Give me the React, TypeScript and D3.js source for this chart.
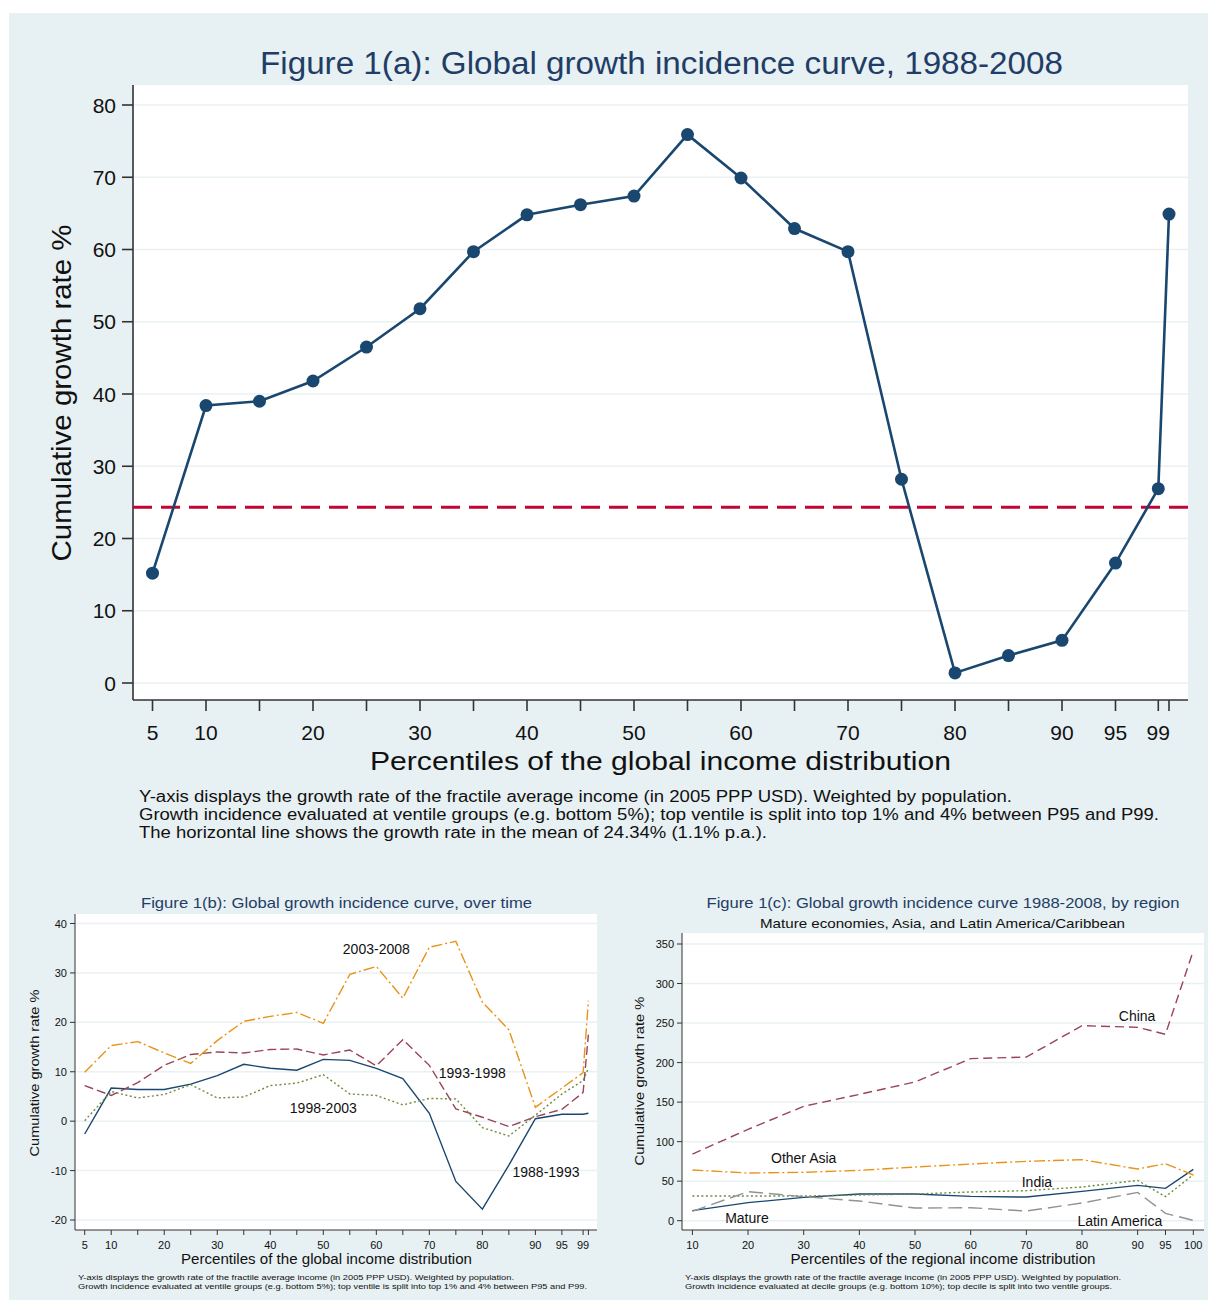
import * as d3 from "d3";
import * as React from "react";

// Figure 1(a)
const topPct = [5, 10, 15, 20, 25, 30, 35, 40, 45, 50, 55, 60, 65, 70, 75, 80, 85, 90, 95, 99, 100];
const topGrowth = [15.2, 38.4, 39.0, 41.8, 46.5, 51.8, 59.7, 64.8, 66.2, 67.4, 75.9, 69.9, 62.9, 59.7, 28.2, 1.4, 3.8, 5.9, 16.6, 26.9, 64.9];
const meanGrowth = 24.34;
const topYTicks = [0, 10, 20, 30, 40, 50, 60, 70, 80];
const topXTickMarks = [5, 10, 15, 20, 25, 30, 35, 40, 45, 50, 55, 60, 65, 70, 75, 80, 85, 90, 95, 99, 100];
const topXTickLabels = [5, 10, 20, 30, 40, 50, 60, 70, 80, 90, 95, 99];

// Figure 1(b)
const periods = ["1988-1993", "1993-1998", "1998-2003", "2003-2008"];
const g8893 = [-2.6, 6.7, 6.4, 6.4, 7.5, 9.2, 11.5, 10.7, 10.3, 12.5, 12.3, 10.7, 8.6, 1.6, -12.2, -17.8, -8.9, 0.5, 1.4, 1.4, 1.6];
const g9398 = [7.2, 5.2, 7.8, 11.3, 13.5, 14.0, 13.8, 14.5, 14.6, 13.4, 14.4, 11.2, 16.5, 11.3, 2.5, 0.8, -1.1, 0.9, 2.4, 5.8, 17.5];
const g9803 = [0.1, 6.0, 4.7, 5.4, 7.4, 4.7, 4.9, 7.2, 7.7, 9.4, 5.5, 5.2, 3.3, 4.6, 4.5, -1.3, -3.0, 1.2, 5.5, 8.2, 10.7];
const g0308 = [9.9, 15.3, 16.1, 13.8, 11.7, 16.3, 20.2, 21.2, 22.0, 19.8, 29.7, 31.3, 24.9, 35.2, 36.4, 24.1, 18.5, 2.8, 6.7, 9.8, 24.4];
// label anchors [percentile, growth]
const periodLabelPos = [[92, -10.3], [78.1, 9.7], [50, 2.6], [60, 34.8]];
const bYTicks = [-20, -10, 0, 10, 20, 30, 40];

// Figure 1(c)
const regPct = [10, 20, 30, 40, 50, 60, 70, 80, 90, 95, 100];
const regions = ["Mature", "China", "India", "Other Asia", "Latin America"];
const matureGrowth = [12.7, 22.8, 29.5, 33.7, 33.7, 30.8, 29.9, 37.1, 44.7, 40.9, 65.0];
const chinaGrowth = [84.3, 115.6, 144.7, 159.8, 175.5, 205.0, 207.0, 246.7, 244.6, 235.8, 341.6];
const indiaGrowth = [31.2, 31.2, 31.2, 32.5, 33.7, 36.3, 38.0, 42.6, 51.0, 30.4, 58.2];
const otherAsiaGrowth = [64.1, 60.3, 61.2, 63.7, 67.9, 71.7, 75.1, 77.2, 65.4, 72.1, 57.8];
const latamGrowth = [11.8, 36.7, 30.4, 24.9, 16.0, 16.4, 12.2, 22.4, 35.8, 9.3, 0.4];
const regionLabelPos = [[19.8, 3.4], [89.9, 259], [71.9, 48.7], [30, 79], [86.8, -0.4]];
const cYTicks = [0, 50, 100, 150, 200, 250, 300, 350];

const FONT = '"Liberation Sans", Arial, sans-serif';
const NAVY = "#1a476f";
const TITLE = "#1f3d66";
const BG = "#e7f0f2";
const GRID = "#eaf1f3";
const AXIS = "#333";

type Sel = d3.Selection<SVGGElement, unknown, null, undefined>;

function text(g: Sel, s: string, x: number, y: number, size: number, opts: any = {}) {
  const t = g
    .append("text")
    .attr("x", x)
    .attr("y", y)
    .attr("font-size", size)
    .attr("font-family", FONT)
    .attr("fill", opts.fill || "#111")
    .attr("text-anchor", opts.anchor || "middle")
    .attr("dominant-baseline", "central")
    .text(s);
  if (opts.len) t.attr("textLength", opts.len).attr("lengthAdjust", "spacingAndGlyphs");
  if (opts.rotate) t.attr("transform", `rotate(-90, ${x}, ${y})`);
  return t;
}

function frame(
  g: Sel,
  x: d3.ScaleLinear<number, number>,
  y: d3.ScaleLinear<number, number>,
  box: { l: number; t: number; r: number; b: number },
  yTicks: number[],
  xMarks: number[],
  xLabels: number[],
  s: { tick: number; font: number; labelGap: number; xLabelY: number; stroke: number }
) {
  g.append("rect")
    .attr("x", box.l)
    .attr("y", box.t)
    .attr("width", box.r - box.l)
    .attr("height", box.b - box.t)
    .attr("fill", "#fff");

  g.selectAll(null)
    .data(yTicks)
    .enter()
    .append("line")
    .attr("x1", box.l)
    .attr("x2", box.r)
    .attr("y1", (d) => y(d))
    .attr("y2", (d) => y(d))
    .attr("stroke", GRID)
    .attr("stroke-width", 1.5);

  // axes
  g.append("line").attr("x1", box.l).attr("x2", box.l).attr("y1", box.t).attr("y2", box.b)
    .attr("stroke", AXIS).attr("stroke-width", s.stroke);
  g.append("line").attr("x1", box.l).attr("x2", box.r).attr("y1", box.b).attr("y2", box.b)
    .attr("stroke", AXIS).attr("stroke-width", s.stroke);

  g.selectAll(null)
    .data(yTicks)
    .enter()
    .append("line")
    .attr("x1", box.l - s.tick)
    .attr("x2", box.l)
    .attr("y1", (d) => y(d))
    .attr("y2", (d) => y(d))
    .attr("stroke", AXIS)
    .attr("stroke-width", s.stroke);
  yTicks.forEach((d) => text(g, String(d), box.l - s.tick - s.labelGap, y(d), s.font, { anchor: "end" }));

  g.selectAll(null)
    .data(xMarks)
    .enter()
    .append("line")
    .attr("x1", (d) => x(d))
    .attr("x2", (d) => x(d))
    .attr("y1", box.b)
    .attr("y2", box.b + s.tick)
    .attr("stroke", AXIS)
    .attr("stroke-width", s.stroke);
  xLabels.forEach((d) => text(g, String(d), x(d), s.xLabelY, s.font));
}

function drawAll(svgEl: SVGSVGElement) {
  const svg = d3.select(svgEl);
  svg.selectAll("*").remove();
  const root = svg.append("g") as unknown as Sel;

  root.append("rect").attr("x", 9).attr("y", 13).attr("width", 1199).attr("height", 1287).attr("fill", BG);

  /* ---------- Figure 1(a) ---------- */
  const a = root.append("g") as unknown as Sel;
  const xa = d3.scaleLinear().domain([5, 100]).range([152.5, 1169]);
  const ya = d3.scaleLinear().domain([0, 80]).range([683, 105]);
  frame(a, xa, ya, { l: 133, t: 85, r: 1188, b: 700 }, topYTicks, topXTickMarks, topXTickLabels, {
    tick: 11,
    font: 21,
    labelGap: 6,
    xLabelY: 732,
    stroke: 1.6,
  });

  a.append("line")
    .attr("x1", 133)
    .attr("x2", 1188)
    .attr("y1", ya(meanGrowth))
    .attr("y2", ya(meanGrowth))
    .attr("stroke", "#c10534")
    .attr("stroke-width", 3)
    .attr("stroke-dasharray", "19,9");

  const pts = topPct.map((p, i) => [p, topGrowth[i]] as [number, number]);
  const lineA = d3.line<[number, number]>().x((d) => xa(d[0])).y((d) => ya(d[1]));
  a.append("path").attr("d", lineA(pts)).attr("fill", "none").attr("stroke", NAVY).attr("stroke-width", 2.6);
  a.selectAll(null)
    .data(pts)
    .enter()
    .append("circle")
    .attr("cx", (d) => xa(d[0]))
    .attr("cy", (d) => ya(d[1]))
    .attr("r", 6.5)
    .attr("fill", NAVY);

  text(a, "Figure 1(a): Global growth incidence curve, 1988-2008", 661.5, 63, 31, { fill: TITLE, len: 803 });
  text(a, "Cumulative growth rate %", 61, 393, 28, { rotate: true, len: 337 });
  text(a, "Percentiles of the global income distribution", 660.5, 761, 26, { len: 581 });
  const notesA = [
    ["Y-axis displays the growth rate of the fractile average income (in 2005 PPP USD). Weighted by population.", 873],
    ["Growth incidence evaluated at ventile groups (e.g. bottom 5%); top ventile is split into top 1% and 4% between P95 and P99.", 1020],
    ["The horizontal line shows the growth rate in the mean of 24.34% (1.1% p.a.).", 628],
  ] as [string, number][];
  notesA.forEach(([s, w], i) => text(a, s, 139, 796 + i * 18, 16, { anchor: "start", len: w }));

  /* ---------- Figure 1(b) ---------- */
  const b = root.append("g") as unknown as Sel;
  const xb = d3.scaleLinear().domain([5, 100]).range([84.7, 588.4]);
  const yb = d3.scaleLinear().domain([-20, 40]).range([1220, 923.5]);
  frame(b, xb, yb, { l: 75, t: 914, r: 597, b: 1230 }, bYTicks, topXTickMarks, topXTickLabels, {
    tick: 5,
    font: 11,
    labelGap: 3,
    xLabelY: 1245,
    stroke: 1,
  });
  const bSeries = [g8893, g9398, g9803, g0308];
  const bColors = [NAVY, "#9a4458", "#6f8a3c", "#e8941a"];
  const bDash = ["none", "9,4", "2,2.5", "11,3,2,3"];
  const lineB = d3.line<number>().x((_, i) => xb(topPct[i])).y((d) => yb(d));
  bSeries.forEach((s, k) => {
    b.append("path")
      .attr("d", lineB(s))
      .attr("fill", "none")
      .attr("stroke", bColors[k])
      .attr("stroke-width", 1.4)
      .attr("stroke-dasharray", bDash[k]);
  });
  periods.forEach((p, k) => text(b, p, xb(periodLabelPos[k][0]), yb(periodLabelPos[k][1]), 14, { fill: "#111" }));

  text(b, "Figure 1(b): Global growth incidence curve, over time", 336.5, 902, 15, { fill: TITLE, len: 391 });
  text(b, "Cumulative growth rate %", 34, 1073, 13, { rotate: true, len: 167 });
  text(b, "Percentiles of the global income distribution", 326.5, 1259, 14, { len: 291 });
  text(b, "Y-axis displays the growth rate of the fractile average income (in 2005 PPP USD). Weighted by population.", 78, 1277, 7.5, { anchor: "start", len: 436 });
  text(b, "Growth incidence evaluated at ventile groups (e.g. bottom 5%); top ventile is split into top 1% and 4% between P95 and P99.", 78, 1286, 7.5, { anchor: "start", len: 509 });

  /* ---------- Figure 1(c) ---------- */
  const c = root.append("g") as unknown as Sel;
  const xc = d3.scaleLinear().domain([10, 100]).range([692.4, 1193.3]);
  const yc = d3.scaleLinear().domain([0, 350]).range([1220.7, 944]);
  frame(c, xc, yc, { l: 682, t: 933, r: 1204, b: 1230 }, cYTicks, regPct, regPct, {
    tick: 5,
    font: 11,
    labelGap: 3,
    xLabelY: 1245,
    stroke: 1,
  });
  const cSeries = [matureGrowth, chinaGrowth, indiaGrowth, otherAsiaGrowth, latamGrowth];
  const cColors = [NAVY, "#9a4458", "#6f8a3c", "#e8941a", "#8f9394"];
  const cDash = ["none", "9,5", "2,2.5", "11,3,2,3", "14,6"];
  const lineC = d3.line<number>().x((_, i) => xc(regPct[i])).y((d) => yc(d));
  cSeries.forEach((s, k) => {
    c.append("path")
      .attr("d", lineC(s))
      .attr("fill", "none")
      .attr("stroke", cColors[k])
      .attr("stroke-width", 1.4)
      .attr("stroke-dasharray", cDash[k]);
  });
  regions.forEach((r, k) => text(c, r, xc(regionLabelPos[k][0]), yc(regionLabelPos[k][1]), 14, { fill: "#111" }));

  text(c, "Figure 1(c): Global growth incidence curve 1988-2008, by region", 943, 902, 15, { fill: TITLE, len: 473 });
  text(c, "Mature economies, Asia, and Latin America/Caribbean", 942.5, 923, 13.5, { len: 365 });
  text(c, "Cumulative growth rate %", 639, 1081, 13, { rotate: true, len: 169 });
  text(c, "Percentiles of the regional income distribution", 943, 1259, 14, { len: 305 });
  text(c, "Y-axis displays the growth rate of the fractile average income (in 2005 PPP USD). Weighted by population.", 685, 1277, 7.5, { anchor: "start", len: 436 });
  text(c, "Growth incidence evaluated at decile groups (e.g. bottom 10%); top decile is split into two ventile groups.", 685, 1286, 7.5, { anchor: "start", len: 427 });
}

export default function App() {
  const ref = React.useRef<SVGSVGElement>(null);
  React.useEffect(() => {
    if (ref.current) drawAll(ref.current);
  }, []);
  return (
    <svg
      ref={ref}
      width={1208}
      height={1300}
      style={{ position: "absolute", left: 0, top: 0, background: "#fff" }}
    />
  );
}
